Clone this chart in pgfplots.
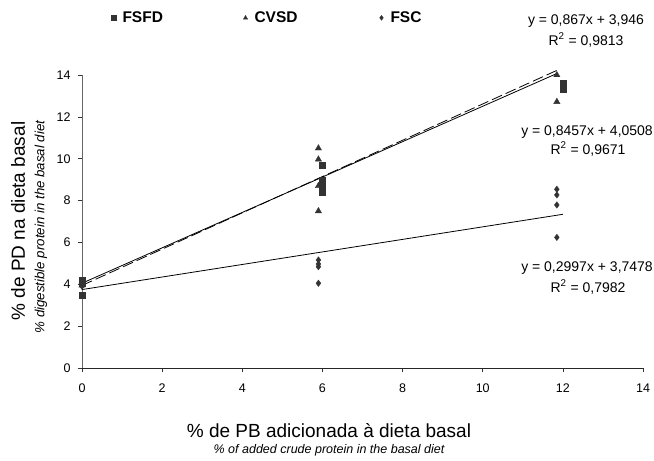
\documentclass[border=0pt]{standalone}
\usepackage{pgfplots}
\pgfplotsset{compat=1.18}
\usepackage{fontspec}
\setmainfont{Liberation Sans}
\definecolor{mk}{HTML}{333333}
\begin{document}
\begin{tikzpicture}[x=1pt,y=1pt]
\path[use as bounding box] (0,0) rectangle (654,461);
\begin{axis}[
  at={(82pt,93pt)}, anchor=south west,
  scale only axis, width=561pt, height=293pt,
  xmin=0, xmax=14, ymin=0, ymax=14,
  axis lines=left,
  axis line style={-, line width=0.8pt, black!85},
  y axis line style={black!60},
  xtick={0,2,...,14}, ytick={0,2,...,14},
  tick style={black!80, line width=0.7pt},
  tick align=outside, major tick length=4pt,
  ticklabel style={font=\fontsize{12.5}{14}\selectfont},
  xticklabel style={yshift=-8pt},
  yticklabel style={xshift=-4pt},
  /pgf/number format/assume math mode=true,
  clip=false,
  legend columns=3,
  legend style={draw=none, fill=none, at={(0.038,1.195)}, anchor=west,
    font=\bfseries\fontsize{15.5}{17}\selectfont},
  legend image code/.code={\path[draw=none,fill=none,mark=none] (0pt,-3pt) rectangle (14pt,3pt); \draw[#1] plot coordinates {(7pt,0pt)};},
  legend image post style={mark size=2.4pt},
]
% FSFD squares
\addplot[only marks, mark=square*, mark size=3pt, mk, mark options={fill=mk}] coordinates {
(0,4.2) (0,4.05) (0,3.5)
(6,9.67) (6,8.98) (6,8.66) (6,8.5) (6,8.38)
(12,13.6) (12,13.45) (12,13.3)
};
\addlegendentry{\makebox[114pt][l]{FSFD}}
% CVSD triangles
\addplot[only marks, mark=triangle*, mark size=3.6pt, mk, mark options={fill=mk}] coordinates {
(0,4.1) (0,3.95)
(5.9,10.5) (5.9,9.97) (5.9,8.7) (5.9,7.5)
(11.85,14.0) (11.85,12.72)
};
\addlegendentry{\makebox[118pt][l]{CVSD}}
% FSC diamonds
\addplot[only marks, mark=diamond*, mark size=3.2pt, mk, mark options={fill=mk}] coordinates {
(0,4.1) (0,3.9)
(5.9,5.16) (5.9,4.97) (5.9,4.84) (5.9,4.05)
(11.85,8.54) (11.85,8.27) (11.85,7.79) (11.85,6.24)
};
\addlegendentry{FSC}
% trend lines
\addplot[forget plot, black, line width=0.8pt, dash pattern=on 11pt off 4pt] coordinates {(0,3.946) (11.85,14.22)};
\addplot[forget plot, black, line width=0.8pt] coordinates {(0,4.051) (11.85,14.07)};
\addplot[forget plot, black, line width=0.8pt] coordinates {(0,3.748) (12,7.344)};
\end{axis}
% equations
\begin{scope}[every node/.style={font=\fontsize{14}{16}\selectfont, inner sep=0pt}]
\node at (586,440) {y = 0,867x + 3,946};
\node at (586,421) {R\textsuperscript{2} = 0,9813};
\node[anchor=east] at (653,329) {y = 0,8457x + 4,0508};
\node at (588,312) {R\textsuperscript{2} = 0,9671};
\node[anchor=east] at (653,193) {y = 0,2997x + 3,7478};
\node at (588,174) {R\textsuperscript{2} = 0,7982};
\end{scope}
% axis titles
\node[font=\fontsize{19}{21}\selectfont, inner sep=0pt] at (329,30) {\% de PB adicionada à dieta basal};
\node[font=\itshape\fontsize{12.5}{14}\selectfont, inner sep=0pt] at (329,11) {\% of added crude protein in the basal diet};
\node[font=\fontsize{19}{21}\selectfont, inner sep=0pt, rotate=90] at (18,240) {\% de PD na dieta basal};
\node[font=\itshape\fontsize{13.3}{15}\selectfont, inner sep=0pt, rotate=90] at (41,234) {\% digestible protein in the basal diet};
\end{tikzpicture}
\end{document}
